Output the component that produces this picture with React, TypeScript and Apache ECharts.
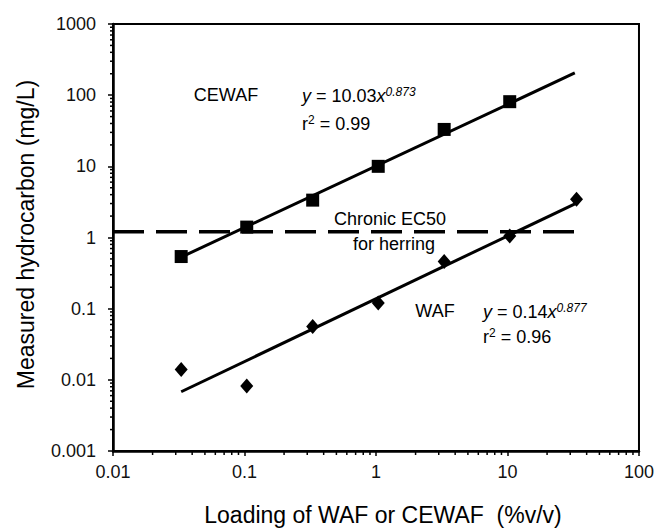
import React, { useEffect, useRef } from "react";
import * as echarts from "echarts";

// Loading of WAF or CEWAF (%v/v)
const loadings = [0.033, 0.104, 0.33, 1.04, 3.3, 10.4, 33.5];
// Measured hydrocarbon (mg/L)
const cewafValues = [0.54, 1.4, 3.35, 10, 33, 81];
const wafValues = [0.014, 0.0082, 0.056, 0.12, 0.46, 1.05, 3.45];
// Fitted power-law lines (end points)
const cewafFitX = [0.033, 32.5];
const cewafFitY = [0.53, 205];
const wafFitX = [0.033, 33.5];
const wafFitY = [0.0068, 3.05];
// Chronic EC50 for herring
const ec50Value = 1.2;
const ec50X = [0.01, 38];
// Axis ranges / tick labels
const xTicks = [0.01, 0.1, 1, 10, 100];
const yTicks = [0.001, 0.01, 0.1, 1, 10, 100, 1000];

const FONT = "'Liberation Sans', Arial, Helvetica, sans-serif";

function minorTicks(ticks: number[]) {
  const out: number[] = [];
  for (let i = 0; i < ticks.length - 1; i++) {
    for (let k = 2; k <= 9; k++) out.push(+(ticks[i] * k).toPrecision(3));
  }
  return out;
}

const fmt = (v: number) => String(parseFloat(Number(v).toPrecision(3)));

export default function App() {
  const ref = useRef<HTMLDivElement>(null);
  useEffect(() => {
    if (!ref.current) return;
    const chart = echarts.init(ref.current, null, { renderer: "svg" });
    const xMin = xTicks[0];
    const xMax = xTicks[xTicks.length - 1];
    const yMin = yTicks[0];
    const yMax = yTicks[yTicks.length - 1];

    const xMinor = minorTicks(xTicks).map((v) => [v, yMin]);
    const yMinor = minorTicks(yTicks).map((v) => [xMin, v]);

    const richEq = {
      n: { fontSize: 18, fontFamily: FONT, color: "#000", lineHeight: 20 },
      i: { fontSize: 18, fontFamily: FONT, color: "#000", fontStyle: "italic", lineHeight: 20 },
      sup: { fontSize: 12, fontFamily: FONT, color: "#000", lineHeight: 8, verticalAlign: "top" },
      supi: { fontSize: 12, fontFamily: FONT, color: "#000", fontStyle: "italic", lineHeight: 8, verticalAlign: "top" },
    };

    const txt = (x: number, y: number, text: string, align = "center") => ({
      type: "text",
      x,
      y,
      style: {
        text,
        fontSize: 18,
        fontFamily: FONT,
        fill: "#000",
        align,
        verticalAlign: "middle",
      },
    });
    const eq = (x: number, y: number, text: string) => ({
      type: "text",
      x,
      y,
      style: {
        text,
        fontSize: 18,
        fontFamily: FONT,
        fill: "#000",
        align: "left",
        verticalAlign: "middle",
        rich: richEq,
      },
    });

    chart.setOption({
      animation: false,
      backgroundColor: "#fff",
      grid: {
        left: 113,
        top: 24,
        right: 15,
        bottom: 78,
        show: true,
        borderColor: "#000",
        borderWidth: 2,
        backgroundColor: "transparent",
      },
      xAxis: {
        type: "log",
        logBase: 10,
        min: xMin,
        max: xMax,
        name: "Loading of WAF or CEWAF  (%v/v)",
        nameLocation: "middle",
        nameGap: 52,
        nameTextStyle: { fontSize: 23, fontFamily: FONT, color: "#000", padding: [0, 0, 0, 14] },
        axisLine: { show: true, lineStyle: { color: "#000", width: 2.5 } },
        axisTick: { show: true, length: 5, lineStyle: { color: "#000", width: 1.5 } },
        axisLabel: { fontSize: 18, fontFamily: FONT, color: "#111", margin: 12, formatter: fmt },
        splitLine: { show: false },
      },
      yAxis: {
        type: "log",
        logBase: 10,
        min: yMin,
        max: yMax,
        name: "Measured hydrocarbon (mg/L)",
        nameLocation: "middle",
        nameGap: 76,
        nameTextStyle: { fontSize: 23, fontFamily: FONT, color: "#000", padding: [0, 0, 0, 6] },
        axisLine: { show: true, lineStyle: { color: "#000", width: 2.5 } },
        axisTick: { show: true, length: 5, lineStyle: { color: "#000", width: 1.5 } },
        axisLabel: { fontSize: 18, fontFamily: FONT, color: "#111", margin: 17, formatter: fmt },
        splitLine: { show: false },
      },
      series: [
        {
          type: "custom",
          silent: true,
          clip: false,
          data: xMinor,
          renderItem: (params: any, api: any) => {
            const p = api.coord([api.value(0), api.value(1)]);
            return {
              type: "line",
              shape: { x1: p[0], y1: p[1], x2: p[0], y2: p[1] + 4 },
              style: { stroke: "#000", lineWidth: 1.5 },
            };
          },
          z: 1,
        },
        {
          type: "custom",
          silent: true,
          clip: false,
          data: yMinor,
          renderItem: (params: any, api: any) => {
            const p = api.coord([api.value(0), api.value(1)]);
            return {
              type: "line",
              shape: { x1: p[0] - 3, y1: p[1], x2: p[0], y2: p[1] },
              style: { stroke: "#000", lineWidth: 1.5 },
            };
          },
          z: 1,
        },
        {
          type: "line",
          data: ec50X.map((x) => [x, ec50Value]),
          symbol: "none",
          lineStyle: { color: "#000", width: 3.5, type: [31, 12] },
          z: 2,
        },
        {
          type: "line",
          data: cewafFitX.map((x, i) => [x, cewafFitY[i]]),
          symbol: "none",
          lineStyle: { color: "#000", width: 3 },
          z: 3,
        },
        {
          type: "line",
          data: wafFitX.map((x, i) => [x, wafFitY[i]]),
          symbol: "none",
          lineStyle: { color: "#000", width: 3 },
          z: 3,
        },
        {
          type: "scatter",
          data: cewafValues.map((v, i) => [loadings[i], v]),
          symbol: "rect",
          symbolSize: 13,
          itemStyle: { color: "#000", opacity: 1 },
          z: 4,
        },
        {
          type: "scatter",
          data: wafValues.map((v, i) => [loadings[i], v]),
          symbol: "diamond",
          symbolSize: [13, 15],
          itemStyle: { color: "#000", opacity: 1 },
          z: 4,
        },
      ],
      graphic: [
        txt(226, 95, "CEWAF"),
        eq(302, 96, "{i|y}{n| = 10.03}{i|x}{supi|0.873}"),
        eq(302, 124, "{n|r}{sup|2}{n| = 0.99}"),
        txt(390, 219, "Chronic EC50"),
        txt(394, 244, "for herring"),
        txt(435, 311, "WAF"),
        eq(483, 312, "{i|y}{n| = 0.14}{i|x}{supi|0.877}"),
        eq(483, 337, "{n|r}{sup|2}{n| = 0.96}"),
      ],
    });
    return () => chart.dispose();
  }, []);
  return (
    <div
      ref={ref}
      style={{ position: "fixed", left: 0, top: 0, width: 657, height: 531 }}
    />
  );
}
